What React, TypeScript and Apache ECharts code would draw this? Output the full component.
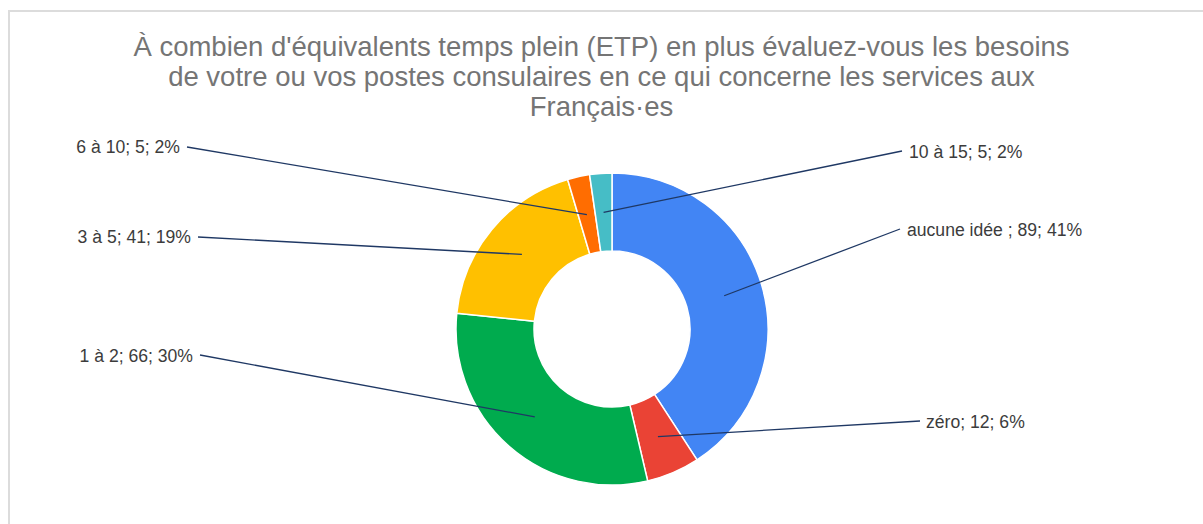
import React, { useEffect, useRef } from "react";
import * as echarts from "echarts";

const TITLE_LINES = [
  "À combien d'équivalents temps plein (ETP) en plus évaluez-vous les besoins",
  "de votre ou vos postes consulaires en ce qui concerne les services aux",
  "Français·es",
];
const CATEGORIES = ["aucune idée ", "zéro", "1 à 2", "3 à 5", "6 à 10", "10 à 15"];
const VALUES = [89, 12, 66, 41, 5, 5];
const COLORS = ["#4285f4", "#ea4335", "#00ab4e", "#ffc000", "#ff6d01", "#46bdc6"];

// layout of label anchors (text position + leader line outer end)
const LABEL_LAYOUT = [
  { x: 907, y: 230, align: "left", lx: 900, ly: 229 },
  { x: 926, y: 422, align: "left", lx: 920, ly: 421 },
  { x: 193, y: 356, align: "right", lx: 200, ly: 355 },
  { x: 191, y: 237, align: "right", lx: 198, ly: 237 },
  { x: 180, y: 147, align: "right", lx: 187, ly: 147 },
  { x: 909, y: 152, align: "left", lx: 902, ly: 151 },
];

const CX = 612;
const CY = 329;
const R_IN = 78;
const R_OUT = 156;

function midPoint(i: number): number[] {
  const total = VALUES.reduce((a, b) => a + b, 0);
  let cum = 0;
  for (let k = 0; k < i; k++) cum += VALUES[k];
  const frac = (cum + VALUES[i] / 2) / total;
  const ang = frac * 2 * Math.PI; // clockwise from top
  const r = (R_IN + R_OUT) / 2;
  return [CX + r * Math.sin(ang), CY - r * Math.cos(ang)];
}

export default function App() {
  const ref = useRef<HTMLDivElement>(null);
  useEffect(() => {
    if (!ref.current) return;
    const chart = echarts.init(ref.current, null, { renderer: "svg" });
    const font = "'Liberation Sans', Arial, sans-serif";
    const leaderLines = CATEGORIES.map((_, i) => {
      const p = midPoint(i);
      const L = LABEL_LAYOUT[i];
      return {
        type: "line",
        silent: true,
        z: 100,
        shape: { x1: p[0], y1: p[1], x2: L.lx, y2: L.ly },
        style: { stroke: "#1f3864", lineWidth: 1.3 },
      };
    });
    chart.setOption({
      animation: false,
      backgroundColor: "#ffffff",
      title: {
        text: TITLE_LINES.join("\n"),
        left: "center",
        top: 26,
        textStyle: {
          fontFamily: font,
          fontSize: 27.5,
          fontWeight: "normal",
          color: "#757575",
          lineHeight: 30,
          align: "center",
        },
      },
      graphic: [
        {
          type: "rect",
          silent: true,
          shape: { x: 9, y: 11, width: 1400, height: 800 },
          style: { fill: "none", stroke: "#dcdcdc", lineWidth: 2 },
        },
        ...leaderLines,
      ],
      series: [
        {
          type: "pie",
          center: [CX, CY],
          radius: [R_IN, R_OUT],
          startAngle: 90,
          clockwise: true,
          percentPrecision: 0,
          avoidLabelOverlap: false,
          itemStyle: { borderColor: "#ffffff", borderWidth: 1.5 },
          label: {
            show: true,
            fontFamily: font,
            fontSize: 17.6,
            color: "#3c3c3c",
            formatter: (p: any) => `${p.name}; ${p.value}; ${p.percent}%`,
          },
          labelLine: { show: false },
          labelLayout: (params: any) => {
            const L = LABEL_LAYOUT[params.dataIndex];
            return { x: L.x, y: L.y, align: L.align, verticalAlign: "middle" };
          },
          emphasis: { disabled: true },
          data: CATEGORIES.map((name, i) => ({
            name,
            value: VALUES[i],
            itemStyle: { color: COLORS[i] },
          })),
        },
      ],
    });
    return () => chart.dispose();
  }, []);
  return (
    <div
      ref={ref}
      style={{ position: "absolute", left: 0, top: 0, width: 1203, height: 524 }}
    />
  );
}
